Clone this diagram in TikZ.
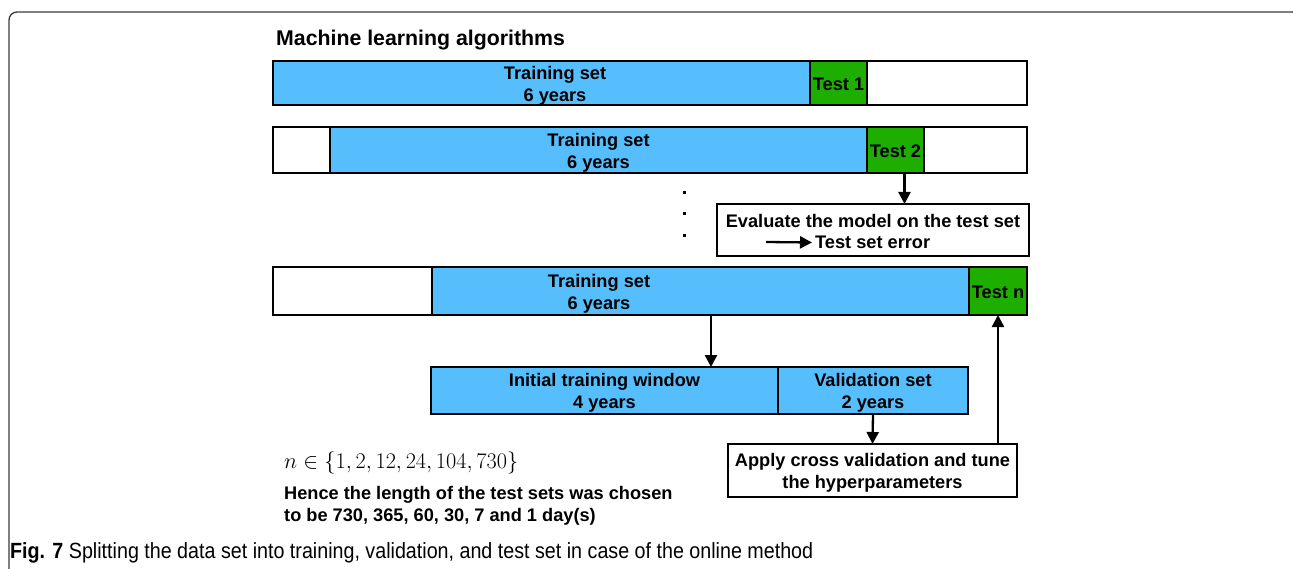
\documentclass[tikz,border=0pt]{standalone}
\usepackage{graphicx}
\usepackage[no-math]{fontspec}
\newfontfamily\labfont{Liberation Sans}
\newfontfamily\capfont[FakeStretch=0.895]{Liberation Sans}
\usetikzlibrary{arrows.meta}

\definecolor{trainblue}{HTML}{56BEFD}
\definecolor{testgreen}{HTML}{1EAE00}
\definecolor{framegray}{HTML}{3A3A3A}

\begin{document}
\begin{tikzpicture}[x=1pt,y=-1pt,
  seg/.style={draw=black, line width=1.4pt, anchor=north west, inner sep=0pt,
    outer sep=0pt, align=center, font=\labfont\bfseries\fontsize{18.2}{22}\selectfont},
  lbl/.style={inner sep=0pt, align=center, font=\labfont\bfseries\fontsize{18.2}{22}\selectfont},
  arr/.style={line width=2.3pt, -{Triangle[length=12pt,width=12pt]}},
  dot/.style={fill=black, inner sep=0pt, minimum size=3pt},
  frame/.style={draw=framegray, line width=1.3pt, rounded corners=8pt}
]
\useasboundingbox (0,0) rectangle (1293,569);
\clip (0,0) rectangle (1293,569);

% outer frame (only its top and left edges fall inside the page)
\draw[frame] (9,600) -- (9,12) -- (1300,12) -- (1300,600);

% heading
\node[anchor=base west, inner sep=0pt, font=\labfont\bfseries\fontsize{21.3}{25}\selectfont]
  (title) at (276,46) {Machine learning algorithms};

% first split
\node[seg, fill=trainblue, minimum width=537pt, minimum height=44pt] (tr1) at (273,61) {};
\node[lbl] (tr1txt) at (555,85.5) {Training set\\6 years};
\node[seg, fill=testgreen, minimum width=57pt, minimum height=44pt] (test1) at (tr1.north east) {};
\node[lbl] (test1txt) at ([yshift=-1pt]test1.center) {Test 1};
\node[seg, fill=white, minimum width=160pt, minimum height=44pt] (rest1) at (test1.north east) {};

% second split
\node[seg, fill=white, minimum width=57pt, minimum height=46pt] (pre2) at (273,127) {};
\node[seg, fill=trainblue, minimum width=537pt, minimum height=46pt] (tr2) at (pre2.north east) {};
\node[lbl] (tr2txt) at ([yshift=-2.5pt]tr2.center) {Training set\\6 years};
\node[seg, fill=testgreen, minimum width=57pt, minimum height=46pt] (test2) at (tr2.north east) {};
\node[lbl] (test2txt) at ([yshift=-1pt]test2.center) {Test 2};
\node[seg, fill=white, minimum width=103pt, minimum height=46pt] (rest2) at (test2.north east) {};

% ellipsis
\node[dot] (d1) at (684,193) {};
\node[dot] (d2) at (684,214) {};
\node[dot] (d3) at (684,236) {};

% evaluation box
\node[seg, fill=white, minimum width=312pt, minimum height=52pt] (evalbox) at (717,204) {};
\node[lbl] (evaltxt) at (873,220.5) {Evaluate the model on the test set};
\node[lbl, anchor=west] (errtxt) at (815,242.5) {Test set error};
\coordinate (errfrom) at (766,242);
\draw[arr] (errfrom) -- ([xshift=-3pt]errtxt.west);
\draw[arr] ([xshift=9pt]test2.south) -- ([xshift=9pt]test2.south |- evalbox.north);

% n-th split
\node[seg, fill=white, minimum width=159pt, minimum height=48pt] (pren) at (273,267) {};
\node[seg, fill=trainblue, minimum width=537pt, minimum height=48pt] (trn) at (pren.north east) {};
\node[lbl] (trntxt) at (599,293.5) {Training set\\6 years};
\node[seg, fill=testgreen, minimum width=58pt, minimum height=48pt] (testn) at (trn.north east) {};
\node[lbl] (testntxt) at ([yshift=-1pt]testn.center) {Test n};

% inner split of the training set
\node[seg, fill=trainblue, minimum width=347pt, minimum height=47pt] (init) at (431,367) {};
\node[lbl] (inittxt) at ([yshift=-2.5pt]init.center) {Initial training window\\4 years};
\node[seg, fill=trainblue, minimum width=190pt, minimum height=47pt] (valid) at (init.north east) {};
\node[lbl] (validtxt) at ([yshift=-2.5pt]valid.center) {Validation set\\2 years};
\draw[arr] ([xshift=10.5pt]trn.south) -- ([xshift=10.5pt]trn.south |- init.north);

% tuning box
\node[seg, fill=white, minimum width=289pt, minimum height=53pt] (apply) at (728,444) {};
\node[lbl] (applytxt) at ([yshift=-2pt]apply.center) {Apply cross validation and tune\\the hyperparameters};
\draw[arr] (valid.south) -- (apply.north);
\draw[arr] (apply.north -| testn.south) -- (testn.south);

% notes
\node[anchor=base west, inner sep=0pt, font=\fontsize{20.74}{25}\selectfont] (nset) at (284,468)
  {\scalebox{1.074}{$n\in\{1,2,12,24,104,730\}$}};
\node[anchor=north west, inner sep=0pt, align=left,
  font=\labfont\bfseries\fontsize{18.2}{22}\selectfont] (hence) at (284,486)
  {Hence the length of the test sets was chosen\\to be 730, 365, 60, 30, 7 and 1 day(s)};

% caption
\node[anchor=base west, inner sep=0pt, font=\capfont\fontsize{22}{26}\selectfont] (caption) at (10,558)
  {\textbf{Fig. 7} Splitting the data set into training, validation, and test set in case of the online method};
\end{tikzpicture}
\end{document}
